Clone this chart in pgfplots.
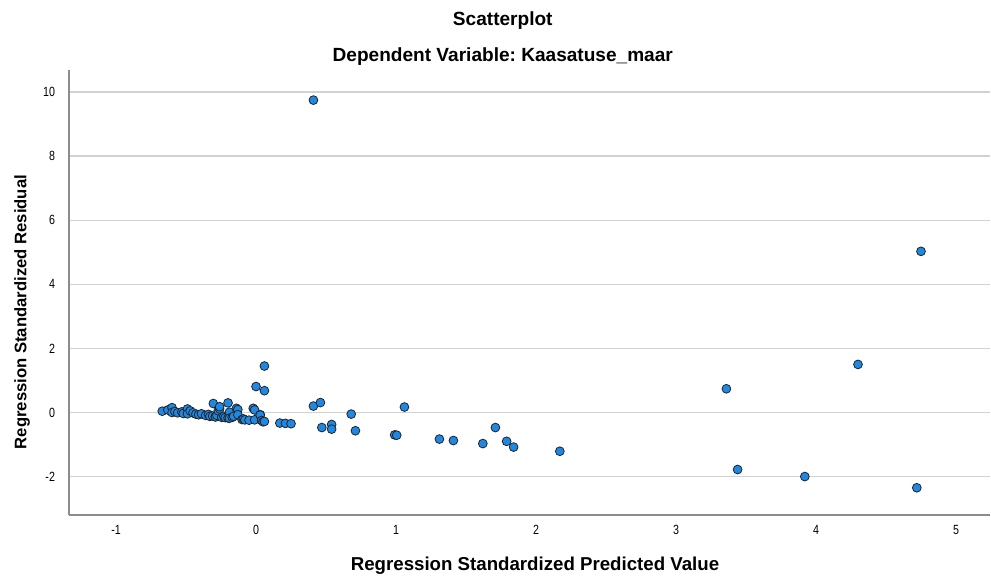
\documentclass[border=0pt]{standalone}
\usepackage{fontspec}
\setmainfont{Liberation Sans}
\newfontfamily\ticknarrow[FakeStretch=0.8]{Liberation Sans}
\usepackage{pgfplots}
\pgfplotsset{compat=1.18}
\frenchspacing

\definecolor{pointfill}{RGB}{30,136,229}
\definecolor{pointedge}{RGB}{35,35,35}
\definecolor{gridgray}{RGB}{210,210,210}
\definecolor{axisgray}{RGB}{140,140,140}

\begin{document}
\begin{tikzpicture}
\useasboundingbox (-51.75pt,-48pt) rectangle (691.5pt,386.25pt);
\begin{axis}[
  at={(0,0)}, anchor=south west,
  scale only axis,
  width=690.75pt, height=333.75pt,
  xmin=-1.336, xmax=5.243,
  ymin=-3.2, ymax=10.69,
  axis lines*=left,
  axis line style={-, axisgray, line width=1.1pt},
  xtick={-1,0,1,2,3,4,5},
  ytick={-2,0,2,4,6,8,10},
  major tick length=0pt,
  ymajorgrids,
  grid style={gridgray, line width=1.1pt},
  /pgf/number format/assume math mode=true,
  tick label style={font=\ticknarrow\fontsize{10}{12}\selectfont, black},
  yticklabel style={anchor=east, xshift=-7pt},
  xticklabel style={anchor=north, yshift=-4pt},
  xlabel={Regression Standardized Predicted Value},
  ylabel={Regression Standardized Residual},
  xlabel style={font=\bfseries\fontsize{14}{16}\selectfont,
    at={(axis description cs:0.506,-0.1146)}, anchor=center},
  ylabel style={font=\bfseries\fontsize{12.5}{15}\selectfont,
    at={(axis description cs:-0.051,0.456)}, anchor=center, rotate=0},
  clip=false,
]
\addplot[only marks, mark=*, mark size=3.3pt,
  mark options={fill=pointfill, draw=pointedge, line width=0.6pt}]
  table[row sep=\\]{
  x y\\
  -0.67 0.04\\ -0.63 0.08\\ -0.60 0.15\\ -0.60 0.00\\ -0.58 0.03\\
  -0.56 -0.01\\ -0.53 0.02\\ -0.52 -0.03\\ -0.49 0.11\\ -0.49 -0.04\\
  -0.47 0.05\\ -0.45 -0.01\\ -0.43 -0.05\\ -0.41 -0.07\\ -0.39 -0.04\\
  -0.36 -0.09\\ -0.34 -0.06\\ -0.33 -0.12\\ -0.31 -0.11\\ -0.305 0.28\\
  -0.29 -0.13\\ -0.29 -0.14\\ -0.28 -0.09\\ -0.27 0.05\\ -0.26 0.11\\
  -0.26 0.18\\ -0.245 -0.15\\ -0.23 -0.12\\ -0.22 -0.16\\ -0.20 0.30\\
  -0.20 -0.17\\ -0.19 0.01\\ -0.19 -0.18\\ -0.17 -0.15\\ -0.16 -0.12\\
  -0.14 0.13\\ -0.13 0.09\\ -0.13 -0.07\\ -0.10 -0.22\\ -0.09 -0.20\\
  -0.08 -0.23\\ -0.05 -0.24\\ -0.02 0.13\\ -0.01 0.08\\ -0.01 -0.23\\
  0.03 -0.07\\ 0.03 -0.08\\ 0.04 -0.25\\ 0.05 -0.29\\ 0.06 -0.28\\
  0.00 0.81\\ 0.06 0.68\\ 0.06 1.45\\
  0.17 -0.33\\ 0.21 -0.34\\ 0.25 -0.35\\
  0.41 0.20\\ 0.46 0.31\\ 0.47 -0.47\\ 0.54 -0.375\\ 0.54 -0.52\\
  0.68 -0.05\\ 0.71 -0.57\\ 0.99 -0.70\\ 1.005 -0.71\\ 1.06 0.17\\
  1.31 -0.83\\ 1.41 -0.875\\ 1.62 -0.97\\ 1.71 -0.47\\ 1.79 -0.90\\
  1.84 -1.08\\ 2.17 -1.21\\
  0.41 9.75\\ 3.36 0.74\\ 3.44 -1.78\\ 3.92 -2.00\\ 4.30 1.50\\
  4.72 -2.35\\ 4.75 5.03\\
  };
\node[font=\bfseries\fontsize{14.3}{16}\selectfont, anchor=base]
  at (rel axis cs:0.471,1.101) {Scatterplot};
\node[font=\bfseries\fontsize{14.3}{16}\selectfont, anchor=base]
  at (rel axis cs:0.471,1.018) {Dependent Variable: Kaasatuse\_maar};
\end{axis}
\end{tikzpicture}
\end{document}
